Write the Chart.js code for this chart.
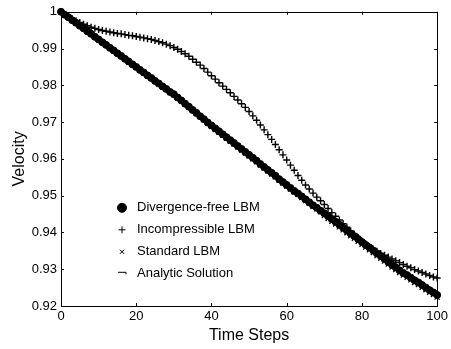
<!DOCTYPE html>
<html>
<head>
<meta charset="utf-8">
<script src="https://cdn.jsdelivr.net/npm/chart.js@4.4.1/dist/chart.umd.min.js"></script>
<style>
  html, body { margin: 0; padding: 0; background: #fff; }
  #wrap { width: 451px; height: 349px; }
</style>
</head>
<body>
<div id="wrap"><canvas id="chart" width="451" height="349"></canvas></div>
<script>
// values, one per time step (0..100)
const analytic = [
  1.0000, 0.9992, 0.9985, 0.9977, 0.9970, 0.9962, 0.9955, 0.9947, 0.9940, 0.9932,
  0.9925, 0.9917, 0.9910, 0.9902, 0.9895, 0.9887, 0.9880, 0.9872, 0.9865, 0.9857,
  0.9850, 0.9842, 0.9835, 0.9827, 0.9820, 0.9812, 0.9805, 0.9797, 0.9790, 0.9782,
  0.9775, 0.9766, 0.9758, 0.9749, 0.9741, 0.9732, 0.9724, 0.9715, 0.9707, 0.9698,
  0.9690, 0.9682, 0.9674, 0.9666, 0.9658, 0.9650, 0.9642, 0.9634, 0.9626, 0.9618,
  0.9610, 0.9602, 0.9594, 0.9585, 0.9577, 0.9569, 0.9561, 0.9553, 0.9544, 0.9536,
  0.9528, 0.9520, 0.9512, 0.9505, 0.9497, 0.9489, 0.9481, 0.9473, 0.9466, 0.9458,
  0.9450, 0.9442, 0.9434, 0.9427, 0.9419, 0.9411, 0.9403, 0.9395, 0.9388, 0.9380,
  0.9372, 0.9364, 0.9357, 0.9349, 0.9341, 0.9334, 0.9326, 0.9318, 0.9310, 0.9303,
  0.9295, 0.9288, 0.9282, 0.9275, 0.9268, 0.9262, 0.9255, 0.9248, 0.9241, 0.9235,
  0.9228
];
const divergenceFree = [
  1.0000, 0.9992, 0.9985, 0.9977, 0.9970, 0.9962, 0.9955, 0.9947, 0.9940, 0.9932,
  0.9925, 0.9917, 0.9910, 0.9902, 0.9895, 0.9887, 0.9880, 0.9872, 0.9865, 0.9857,
  0.9850, 0.9842, 0.9835, 0.9827, 0.9820, 0.9812, 0.9805, 0.9797, 0.9790, 0.9782,
  0.9776, 0.9767, 0.9759, 0.9750, 0.9742, 0.9733, 0.9725, 0.9716, 0.9708, 0.9699,
  0.9691, 0.9683, 0.9675, 0.9667, 0.9659, 0.9651, 0.9643, 0.9635, 0.9627, 0.9619,
  0.9611, 0.9603, 0.9595, 0.9586, 0.9578, 0.9570, 0.9562, 0.9554, 0.9545, 0.9537,
  0.9529, 0.9521, 0.9513, 0.9506, 0.9498, 0.9490, 0.9482, 0.9474, 0.9467, 0.9459,
  0.9452, 0.9444, 0.9436, 0.9429, 0.9421, 0.9413, 0.9405, 0.9397, 0.9390, 0.9382,
  0.9374, 0.9366, 0.9359, 0.9351, 0.9343, 0.9336, 0.9328, 0.9320, 0.9312, 0.9305,
  0.9297, 0.9290, 0.9284, 0.9277, 0.9270, 0.9264, 0.9257, 0.9250, 0.9243, 0.9237,
  0.9230
];
const standard = [
  1.0000, 0.9992, 0.9985, 0.9977, 0.9970, 0.9962, 0.9955, 0.9947, 0.9940, 0.9932,
  0.9925, 0.9917, 0.9910, 0.9902, 0.9895, 0.9887, 0.9880, 0.9872, 0.9865, 0.9857,
  0.9850, 0.9842, 0.9835, 0.9827, 0.9820, 0.9812, 0.9805, 0.9797, 0.9790, 0.9782,
  0.9775, 0.9766, 0.9758, 0.9749, 0.9741, 0.9732, 0.9724, 0.9715, 0.9707, 0.9698,
  0.9688, 0.9680, 0.9672, 0.9664, 0.9656, 0.9648, 0.9640, 0.9632, 0.9624, 0.9616,
  0.9608, 0.9600, 0.9592, 0.9583, 0.9575, 0.9567, 0.9559, 0.9551, 0.9542, 0.9534,
  0.9526, 0.9518, 0.9510, 0.9503, 0.9495, 0.9487, 0.9479, 0.9471, 0.9464, 0.9456,
  0.9446, 0.9438, 0.9430, 0.9423, 0.9415, 0.9407, 0.9399, 0.9391, 0.9384, 0.9376,
  0.9368, 0.9360, 0.9353, 0.9345, 0.9337, 0.9330, 0.9322, 0.9314, 0.9306, 0.9299,
  0.9291, 0.9284, 0.9278, 0.9271, 0.9264, 0.9258, 0.9251, 0.9244, 0.9237, 0.9231,
  0.9224
];
const incompressible = [
  1.0000, 0.9993, 0.9987, 0.9981, 0.9976, 0.9971, 0.9966, 0.9962, 0.9958, 0.9955,
  0.9952, 0.9949, 0.9947, 0.9945, 0.9943, 0.9941, 0.9940, 0.9938, 0.9936, 0.9935,
  0.9933, 0.9931, 0.9929, 0.9927, 0.9925, 0.9922, 0.9919, 0.9916, 0.9912, 0.9908,
  0.9903, 0.9898, 0.9892, 0.9886, 0.9879, 0.9871, 0.9863, 0.9855, 0.9846, 0.9836,
  0.9826, 0.9817, 0.9807, 0.9798, 0.9789, 0.9780, 0.9770, 0.9760, 0.9750, 0.9740,
  0.9729, 0.9717, 0.9705, 0.9692, 0.9679, 0.9666, 0.9653, 0.9639, 0.9625, 0.9611,
  0.9597, 0.9583, 0.9569, 0.9555, 0.9542, 0.9529, 0.9518, 0.9507, 0.9496, 0.9486,
  0.9476, 0.9465, 0.9454, 0.9444, 0.9434, 0.9424, 0.9414, 0.9404, 0.9395, 0.9386,
  0.9377, 0.9369, 0.9362, 0.9355, 0.9349, 0.9343, 0.9338, 0.9333, 0.9328, 0.9323,
  0.9318, 0.9313, 0.9308, 0.9304, 0.9299, 0.9295, 0.9291, 0.9287, 0.9283, 0.9279,
  0.9276
];
const xTicks = [0, 20, 40, 60, 80, 100];
const yTicks = [0.92, 0.93, 0.94, 0.95, 0.96, 0.97, 0.98, 0.99, 1];
const seriesNames = ['Divergence-free LBM', 'Incompressible LBM', 'Standard LBM', 'Analytic Solution'];

const FONT = '"Liberation Sans", Arial, sans-serif';

// time step index -> {x, y}
function toPoints(values) {
  return values.map((v, i) => ({ x: i, y: v }));
}

// frame + inward ticks, MATLAB style
const framePlugin = {
  id: 'frame',
  afterDatasetsDraw(chart) {
    const { ctx, chartArea: a, scales } = chart;
    ctx.save();
    ctx.strokeStyle = '#000';
    ctx.lineWidth = 1;
    ctx.strokeRect(Math.round(a.left) + 0.5, Math.round(a.top) + 0.5,
      Math.round(a.right - a.left), Math.round(a.bottom - a.top));
    ctx.beginPath();
    xTicks.forEach(v => {
      const px = Math.round(scales.x.getPixelForValue(v)) + 0.5;
      ctx.moveTo(px, a.bottom); ctx.lineTo(px, a.bottom - 3);
      ctx.moveTo(px, a.top); ctx.lineTo(px, a.top + 3);
    });
    yTicks.forEach(v => {
      const py = Math.round(scales.y.getPixelForValue(v)) + 0.5;
      ctx.moveTo(a.left, py); ctx.lineTo(a.left + 3, py);
      ctx.moveTo(a.right, py); ctx.lineTo(a.right - 3, py);
    });
    ctx.stroke();
    ctx.restore();
  }
};

// legend without box, inside the plot
const legendPlugin = {
  id: 'innerLegend',
  afterDraw(chart) {
    const { ctx, chartArea: a } = chart;
    const mx = a.left + 61, tx = a.left + 76;
    let y = a.top + 196;
    ctx.save();
    ctx.font = '13px ' + FONT;
    ctx.textBaseline = 'middle';
    chart.data.datasets.forEach(ds => {
      ctx.strokeStyle = '#000';
      ctx.fillStyle = '#000';
      if (ds.legendStyle === 'line') {
        ctx.lineWidth = 1;
        ctx.beginPath();
        ctx.moveTo(mx - 4, y - 1.5); ctx.lineTo(mx + 4, y - 1.5);
        ctx.lineTo(mx + 4, y + 0.5);
        ctx.stroke();
      } else {
        Chart.helpers.drawPoint(ctx, {
          pointStyle: ds.pointStyle,
          radius: ds.legendRadius,
          rotation: 0,
          borderWidth: 1.2
        }, mx, y);
      }
      ctx.fillStyle = '#000';
      ctx.fillText(ds.label, tx, y);
      y += 22;
    });
    ctx.restore();
  }
};

new Chart(document.getElementById('chart'), {
  type: 'scatter',
  data: {
    datasets: [
      {
        label: seriesNames[0], data: toPoints(divergenceFree),
        pointStyle: 'circle', pointRadius: 3.5, borderWidth: 1,
        backgroundColor: '#000', borderColor: '#000', showLine: false,
        legendRadius: 4.5, clip: false
      },
      {
        label: seriesNames[1], data: toPoints(incompressible),
        pointStyle: 'cross', pointRadius: 3.5, borderWidth: 1.4,
        backgroundColor: '#000', borderColor: '#000', showLine: false,
        legendRadius: 3.5, clip: false
      },
      {
        label: seriesNames[2], data: toPoints(standard),
        pointStyle: 'crossRot', pointRadius: 3.5, borderWidth: 1.3,
        backgroundColor: '#000', borderColor: '#000', showLine: false,
        legendRadius: 3, clip: false
      },
      {
        label: seriesNames[3], data: toPoints(analytic),
        pointRadius: 0, borderWidth: 1, borderColor: '#000',
        backgroundColor: '#000', showLine: true, legendStyle: 'line', clip: false
      }
    ]
  },
  options: {
    responsive: false,
    animation: false,
    layout: { padding: { left: 0, top: 7, right: 11, bottom: 0 } },
    plugins: { legend: { display: false }, tooltip: { enabled: false } },
    scales: {
      x: {
        type: 'linear', min: 0, max: 100,
        afterBuildTicks: s => { s.ticks = xTicks.map(v => ({ value: v })); },
        afterFit: s => { s.height = 43; },
        grid: { display: false, drawTicks: false },
        border: { display: false },
        ticks: { color: '#000', padding: 3, maxRotation: 0, font: { family: FONT, size: 13 } },
        title: { display: true, text: 'Time Steps', color: '#000',
          font: { family: FONT, size: 16 }, padding: { top: 0, bottom: 4 } }
      },
      y: {
        type: 'linear', min: 0.92, max: 1,
        afterBuildTicks: s => { s.ticks = yTicks.map(v => ({ value: v })); },
        afterFit: s => { s.width = 61; },
        grid: { display: false, drawTicks: false },
        border: { display: false },
        ticks: { color: '#000', padding: 4, font: { family: FONT, size: 13 },
          callback: v => String(+v.toFixed(2)) },
        title: { display: true, text: 'Velocity', color: '#000',
          font: { family: FONT, size: 16 }, padding: { top: 10, bottom: 0 } }
      }
    }
  },
  plugins: [framePlugin, legendPlugin]
});
</script>
</body>
</html>
